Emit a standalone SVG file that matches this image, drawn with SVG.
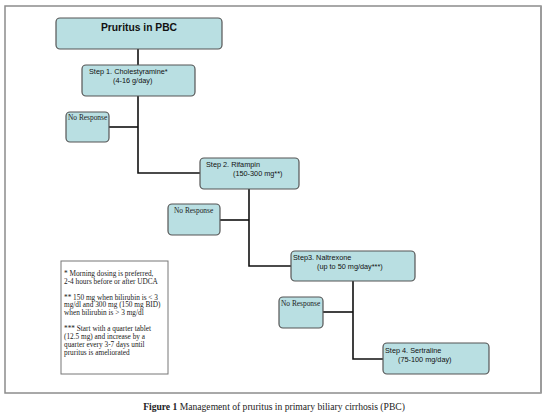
<svg xmlns="http://www.w3.org/2000/svg" width="553" height="414" viewBox="0 0 553 414">
<style>
.node{fill:#b9dfe2;stroke:#555;stroke-width:1.2}
.st{font-family:"Liberation Sans",Arial,sans-serif;font-size:7.3px;fill:#111}
.nr{font-family:"Liberation Serif","Times New Roman",serif;font-size:7.4px;fill:#222}
.fn{font-family:"Liberation Serif","Times New Roman",serif;font-size:7.3px;fill:#222}
.conn{fill:none;stroke:#111;stroke-width:1.6}
</style>
<rect x="0" y="0" width="553" height="414" fill="#fff"/>
<rect x="5" y="6" width="536" height="387" fill="none" stroke="#8c8c8c" stroke-width="1.5"/>
<line x1="541" y1="6" x2="541" y2="393" stroke="#9c9c9c" stroke-width="2"/>
<g id="connectors">
<path class="conn" d="M138,49 V65"/>
<path class="conn" d="M138,96 V173 H200"/>
<path class="conn" d="M109,127 H138"/>
<path class="conn" d="M249,189 V266 H291"/>
<path class="conn" d="M220,220 H249"/>
<path class="conn" d="M353,281 V359 H383"/>
<path class="conn" d="M323,312 H353"/>
</g>
<g id="title">
<rect class="node" x="56" y="18" width="166" height="31" rx="4"/>
<text x="139" y="31" text-anchor="middle" font-family="Liberation Sans,Arial,sans-serif" font-size="10.3" font-weight="bold" fill="#111">Pruritus in PBC</text>
</g>
<g id="step1">
<rect class="node" x="82" y="65" width="113" height="31" rx="4"/>
<text class="st" x="89" y="74">Step 1. Cholestyramine*</text>
<text class="st" x="113" y="82.5">(4-16 g/day)</text>
</g>
<g id="noresponse1">
<rect class="node" x="66" y="112" width="43" height="30" rx="4"/>
<text class="nr" x="68" y="119.5">No Response</text>
</g>
<g id="step2">
<rect class="node" x="200" y="158" width="99" height="31" rx="4"/>
<text class="st" x="206" y="166.5">Step 2. Rifampin</text>
<text class="st" x="233" y="175.5">(150-300 mg**)</text>
</g>
<g id="noresponse2">
<rect class="node" x="168" y="204" width="52" height="31" rx="4"/>
<text class="nr" x="174" y="213">No Response</text>
</g>
<g id="step3">
<rect class="node" x="291" y="251" width="124" height="30" rx="4"/>
<text class="st" x="293" y="259.5">Step3. Naltrexone</text>
<text class="st" x="317" y="268.5">(up to 50 mg/day***)</text>
</g>
<g id="noresponse3">
<rect class="node" x="279" y="297" width="44" height="31" rx="4"/>
<text class="nr" x="281" y="305.5">No Response</text>
</g>
<g id="step4">
<rect class="node" x="383" y="343" width="106" height="31" rx="4"/>
<text class="st" x="385" y="352.5">Step 4. Sertraline</text>
<text class="st" x="398" y="361.5">(75-100 mg/day)</text>
</g>
<g id="footnotes">
<rect x="61" y="261" width="107" height="113" fill="#fff" stroke="#777" stroke-width="1"/>
<text class="fn" x="64" y="276">* Morning dosing is preferred,</text>
<text class="fn" x="64" y="284">2-4 hours before or after UDCA</text>
<text class="fn" x="64" y="299.5">** 150 mg when bilirubin is &lt; 3</text>
<text class="fn" x="64" y="307.4">mg/dl and 300 mg (150 mg BID)</text>
<text class="fn" x="64" y="315.3">when bilirubin is &gt; 3 mg/dl</text>
<text class="fn" x="64" y="331">*** Start with a quarter tablet</text>
<text class="fn" x="64" y="338.9">(12.5 mg) and increase by a</text>
<text class="fn" x="64" y="346.8">quarter every 3-7 days until</text>
<text class="fn" x="64" y="354.7">pruritus is ameliorated</text>
</g>
<text x="274" y="409.5" text-anchor="middle" font-family="Liberation Serif,Times New Roman,serif" font-size="9.6" fill="#222"><tspan font-weight="bold">Figure 1</tspan> Management of pruritus in primary biliary cirrhosis (PBC)</text>
</svg>
